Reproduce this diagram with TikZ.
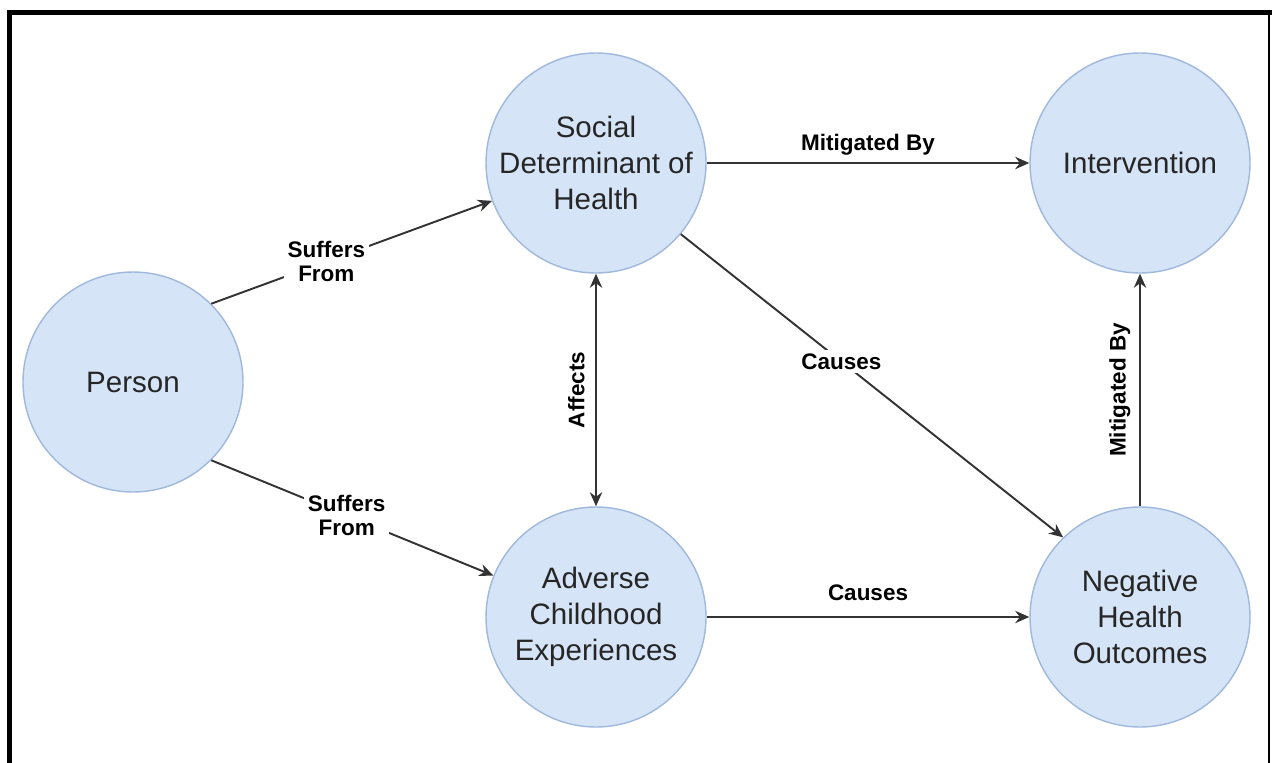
\documentclass[tikz,border=0pt]{standalone}
\usepackage{fontspec}
\setmainfont{Liberation Sans}
\usetikzlibrary{arrows.meta}
\definecolor{nodeBlue}{HTML}{D5E4F6}
\definecolor{nodeRim}{HTML}{9FB8DB}
\begin{document}
\begin{tikzpicture}
        [node/.style={circle, draw=nodeRim, fill=nodeBlue, line width=0.8pt, minimum size=4.4cm, inner sep=0pt, align=center, text=black!85, font=\fontsize{16.8}{20.4}\selectfont},
        edge/.style={line width=1.1pt, draw=black!80, -{Stealth[length=8pt, width=7pt]}},
        edgeLabel/.style={fill=white, inner sep=2pt, align=center, text=black, font=\fontsize{12.8}{13.6}\selectfont\bfseries}]
        \useasboundingbox (0,0) rectangle (25.44,-15.24);
        % frame
        \draw[line width=2.6pt] (0.19,-15.4) -- (0.19,-0.25) -- (25.6,-0.25);
        \draw[line width=0.6pt] (25.38,-0.25) -- (25.38,-15.4);

        \node[node] (P) at (2.66,-7.64) {Person};
        \node[node] (S) at (11.92,-3.26) {Social\\Determinant of\\Health};
        \node[node] (I) at (22.8,-3.26) {Intervention};
        \node[node] (A) at (11.92,-12.34) {Adverse\\Childhood\\Experiences};
        \node[node] (N) at (22.8,-12.34) {Negative\\Health\\Outcomes};

        \draw[edge] (P.45) -- (S.200) node[pos=0.41, edgeLabel] {Suffers\\From};
        \draw[edge] (P.-45) -- (A.158) node[pos=0.48, edgeLabel] {Suffers\\From};
        \draw[edge] (S) -- (I) node[midway, above=2pt, edgeLabel] {Mitigated By};
        \draw[edge, {Stealth[length=8pt, width=7pt]}-{Stealth[length=8pt, width=7pt]}] (A) -- (S) node[midway, above=4pt, sloped, edgeLabel] {Affects};
        \draw[edge] (S.-40) -- (N.134) node[pos=0.42, edgeLabel] {Causes};
        \draw[edge] (A) -- (N) node[midway, above=6.5pt, edgeLabel] {Causes};
        \draw[edge] (N) -- (I) node[midway, above=3pt, sloped, edgeLabel] {Mitigated By};
    \end{tikzpicture}
\end{document}
